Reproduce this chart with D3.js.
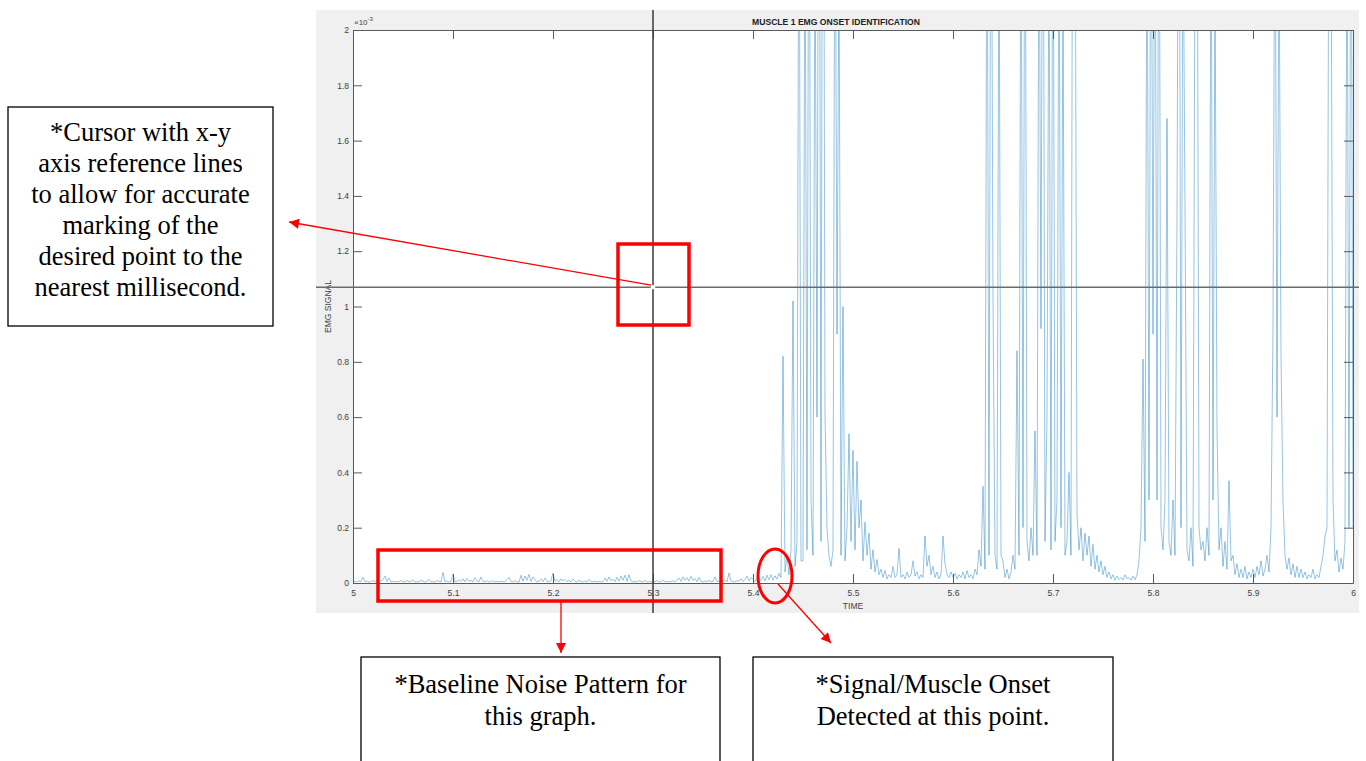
<!DOCTYPE html>
<html>
<head>
<meta charset="utf-8">
<script src="https://cdn.jsdelivr.net/npm/d3@7"></script>
<style>
  html, body { margin: 0; padding: 0; background: #ffffff; }
  svg { display: block; }
</style>
</head>
<body>
<svg id="chart" width="1366" height="761"></svg>
<script>
// ---------------- DATA ----------------
const chartTitle = "MUSCLE 1 EMG ONSET IDENTIFICATION";
const xAxisLabel = "TIME";
const yAxisLabel = "EMG SIGNAL";
const yExponent = "-3";
const xTickValues = [5, 5.1, 5.2, 5.3, 5.4, 5.5, 5.6, 5.7, 5.8, 5.9, 6];
const xTickLabels = ["5", "5.1", "5.2", "5.3", "5.4", "5.5", "5.6", "5.7", "5.8", "5.9", "6"];
const yTickValues = [0, 0.2, 0.4, 0.6, 0.8, 1, 1.2, 1.4, 1.6, 1.8, 2];
const yTickLabels = ["0", "0.2", "0.4", "0.6", "0.8", "1", "1.2", "1.4", "1.6", "1.8", "2"];
const xDomain = [5, 6];
const yDomain = [0, 2];
const sampleStart = 5.0;      // s
const sampleStep = 0.002;     // s between samples
// EMG signal (x 10^-3), one value per sample from 5.000 s to 6.000 s
const emgValues = [
  // 5.000 - 5.048
  0.004,0.006,0.003,0.008,0.005,0.021,0.004,0.007,0.003,0.005,0.009,0.004,0.006,0.003,0.008,0.012,0.025,0.006,0.018,0.004,0.007,0.003,0.006,0.004,0.009,
  // 5.050 - 5.098
  0.005,0.003,0.010,0.004,0.006,0.012,0.003,0.005,0.004,0.011,0.006,0.003,0.007,0.013,0.004,0.005,0.003,0.009,0.006,0.004,0.038,0.005,0.007,0.004,0.006,
  // 5.100 - 5.148
  0.033,0.004,0.006,0.012,0.005,0.015,0.004,0.016,0.006,0.010,0.004,0.018,0.007,0.005,0.022,0.006,0.004,0.009,0.003,0.005,0.008,0.004,0.006,0.003,0.007,
  // 5.150 - 5.198
  0.005,0.004,0.012,0.020,0.006,0.004,0.008,0.005,0.003,0.028,0.007,0.025,0.010,0.031,0.006,0.022,0.012,0.004,0.006,0.015,0.005,0.018,0.006,0.004,0.009,
  // 5.200 - 5.248
  0.036,0.006,0.012,0.004,0.015,0.007,0.013,0.005,0.010,0.004,0.014,0.006,0.003,0.011,0.005,0.004,0.008,0.003,0.013,0.005,0.004,0.007,0.003,0.006,0.004,
  // 5.250 - 5.298
  0.005,0.018,0.006,0.022,0.008,0.014,0.005,0.020,0.007,0.026,0.010,0.028,0.006,0.030,0.008,0.004,0.006,0.003,0.009,0.005,0.004,0.010,0.003,0.005,0.004,
  // 5.300 - 5.348
  0.006,0.004,0.009,0.003,0.005,0.011,0.004,0.006,0.003,0.005,0.008,0.004,0.012,0.018,0.006,0.022,0.010,0.019,0.007,0.024,0.009,0.016,0.005,0.020,0.006,
  // 5.350 - 5.398
  0.004,0.007,0.005,0.010,0.004,0.006,0.021,0.005,0.008,0.004,0.006,0.012,0.004,0.036,0.007,0.005,0.004,0.009,0.006,0.015,0.005,0.013,0.025,0.008,0.020,
  // 5.400 - 5.448
  0.012,0.005,0.018,0.006,0.010,0.024,0.008,0.028,0.012,0.030,0.010,0.026,0.014,0.035,0.020,0.82,0.04,0.10,0.03,0.12,1.02,0.06,0.15,2.9,0.08,
  // 5.450 - 5.498
  0.08,2.6,0.12,3.2,0.3,0.1,2.4,0.6,3.5,0.15,4.0,0.61,0.2,0.1,0.06,0.12,2.8,0.9,2.3,0.1,1.0,0.08,0.2,0.54,0.15,
  // 5.500 - 5.548
  0.48,0.12,0.44,0.20,0.30,0.08,0.22,0.10,0.18,0.05,0.12,0.04,0.085,0.03,0.05,0.02,0.045,0.015,0.03,0.02,0.06,0.02,0.03,0.125,0.02,
  // 5.550 - 5.598
  0.03,0.015,0.04,0.02,0.03,0.08,0.025,0.04,0.015,0.03,0.02,0.17,0.06,0.10,0.03,0.06,0.02,0.04,0.015,0.03,0.17,0.07,0.03,0.02,0.04,
  // 5.600 - 5.648
  0.02,0.035,0.015,0.03,0.02,0.04,0.015,0.045,0.02,0.03,0.015,0.05,0.03,0.12,0.06,0.35,0.05,2.8,0.1,3.1,1.03,0.1,0.05,2.5,0.1,
  // 5.650 - 5.698
  0.08,0.02,0.05,0.015,0.04,0.1,0.05,0.84,0.1,2.7,0.2,3.0,0.15,0.08,0.2,0.1,0.55,0.1,2.6,0.92,3.2,0.15,0.6,2.4,0.12,
  // 5.700 - 5.748
  2.9,0.15,0.3,2.6,0.2,2.2,0.1,0.15,0.4,0.1,3.4,2.8,0.25,0.12,0.2,0.08,0.18,0.1,0.17,0.06,0.14,0.05,0.1,0.04,0.08,
  // 5.750 - 5.798
  0.03,0.06,0.02,0.04,0.015,0.03,0.01,0.025,0.012,0.02,0.01,0.03,0.015,0.02,0.01,0.025,0.012,0.03,0.08,0.2,0.81,0.15,2.6,0.3,3.0,
  // 5.800 - 5.848
  0.9,2.8,0.3,3.1,0.2,0.12,0.3,1.68,0.15,0.1,0.3,0.1,1.33,3.3,0.2,2.5,1.36,0.12,0.08,0.2,0.06,2.4,2.9,0.2,0.12,
  // 5.850 - 5.898
  0.15,0.08,0.2,0.1,2.6,0.3,2.2,0.56,0.12,0.2,0.06,0.15,0.05,0.37,0.08,0.1,0.03,0.07,0.02,0.05,0.02,0.06,0.015,0.04,0.02,
  // 5.900 - 5.948
  0.05,0.02,0.06,0.03,0.08,0.025,0.05,0.1,0.04,0.2,0.92,2.7,0.6,2.4,0.82,0.3,0.1,0.05,0.09,0.03,0.07,0.02,0.06,0.02,0.05,
  // 5.950 - 5.998
  0.02,0.04,0.015,0.03,0.02,0.05,0.015,0.03,0.02,0.06,0.1,0.17,0.2,2.8,2.5,0.3,0.08,0.12,0.04,0.09,0.05,0.15,2.6,0.2,3.0,
  // 6.000
  0.2
];
// cursor crosshair position (data coordinates)
const cursorTime = 5.3;
const cursorValue = 1.07;
// annotation texts
const noteCursor = ["*Cursor with x-y", "axis reference lines", "to allow for accurate", "marking of the", "desired point to the", "nearest millisecond."];
const noteBaseline = ["*Baseline Noise Pattern for", "this graph."];
const noteOnset = ["*Signal/Muscle Onset", "Detected at this point."];

// ---------------- LAYOUT ----------------
const svg = d3.select("#chart");
const fig = { x0: 316, y0: 10, x1: 1359, y1: 613 };
const plot = { left: 353, right: 1353, top: 30, bottom: 583 };
const axisColor = "#5a5a5a";
const textColor = "#404040";
const sans = "'Liberation Sans', Arial, Helvetica, sans-serif";
const serif = "'Liberation Serif', 'Times New Roman', serif";

const x = d3.scaleLinear().domain(xDomain).range([plot.left, plot.right]);
const y = d3.scaleLinear().domain(yDomain).range([plot.bottom, plot.top]);

// figure background
svg.append("rect").attr("x", fig.x0).attr("y", fig.y0)
  .attr("width", fig.x1 - fig.x0).attr("height", fig.y1 - fig.y0).attr("fill", "#f0f0f0");
svg.append("rect").attr("x", plot.left).attr("y", plot.top)
  .attr("width", plot.right - plot.left).attr("height", plot.bottom - plot.top).attr("fill", "#ffffff");

// clip
svg.append("defs").append("clipPath").attr("id", "plotClip")
  .append("rect").attr("x", plot.left).attr("y", plot.top)
  .attr("width", plot.right - plot.left).attr("height", plot.bottom - plot.top);

// signal
const line = d3.line()
  .x((d, i) => x(sampleStart + i * sampleStep))
  .y(d => y(d));
svg.append("path")
  .datum(emgValues)
  .attr("clip-path", "url(#plotClip)")
  .attr("d", line)
  .attr("fill", "none")
  .attr("stroke", "#0072BD")
  .attr("stroke-opacity", 0.7)
  .attr("stroke-width", 0.6)
  .attr("stroke-linejoin", "miter")
  .attr("stroke-miterlimit", 2);

// axes
const tickLen = 9;
function styleAxis(g) {
  g.select(".domain").attr("stroke", axisColor).attr("stroke-width", 1);
  g.selectAll(".tick line").attr("stroke", axisColor).attr("stroke-width", 1);
  g.selectAll(".tick text").attr("fill", textColor).attr("font-family", sans).attr("font-size", 8.5);
}
svg.append("g").attr("transform", `translate(0,${plot.bottom})`)
  .call(d3.axisBottom(x).tickValues(xTickValues).tickSize(-tickLen).tickSizeOuter(0).tickPadding(7)
    .tickFormat((d, i) => xTickLabels[i]))
  .call(styleAxis);
svg.append("g").attr("transform", `translate(0,${plot.top})`)
  .call(d3.axisTop(x).tickValues(xTickValues).tickSize(-tickLen).tickSizeOuter(0).tickFormat(""))
  .call(styleAxis);
svg.append("g").attr("transform", `translate(${plot.left},0)`)
  .call(d3.axisLeft(y).tickValues(yTickValues).tickSize(-tickLen).tickSizeOuter(0).tickPadding(4)
    .tickFormat((d, i) => yTickLabels[i]))
  .call(styleAxis);
svg.append("g").attr("transform", `translate(${plot.right},0)`)
  .call(d3.axisRight(y).tickValues(yTickValues).tickSize(-tickLen).tickSizeOuter(0).tickFormat(""))
  .call(styleAxis);

// exponent label
const expo = svg.append("text").attr("x", plot.left + 1).attr("y", plot.top - 5)
  .attr("font-family", sans).attr("font-size", 8).attr("fill", textColor);
expo.append("tspan").text("\u00d710");
expo.append("tspan").attr("dy", -4).attr("font-size", 6).text(yExponent);

// title & labels
svg.append("text").attr("x", 836).attr("y", 25).attr("text-anchor", "middle")
  .attr("font-family", sans).attr("font-weight", "bold").attr("font-size", 8.6)
  .attr("fill", "#202020").text(chartTitle);
svg.append("text").attr("x", (plot.left + plot.right) / 2).attr("y", 609).attr("text-anchor", "middle")
  .attr("font-family", sans).attr("font-size", 8.5).attr("fill", textColor).text(xAxisLabel);
svg.append("text").attr("transform", `translate(331,${(plot.top + plot.bottom) / 2}) rotate(-90)`)
  .attr("text-anchor", "middle").attr("font-family", sans).attr("font-size", 8.5)
  .attr("fill", textColor).text(yAxisLabel);

// cursor crosshair
const cx = x(cursorTime), cy = y(cursorValue);
svg.append("line").attr("x1", fig.x0).attr("x2", fig.x1).attr("y1", cy).attr("y2", cy)
  .attr("stroke", "#6a6a6a").attr("stroke-width", 1.5);
svg.append("line").attr("x1", cx).attr("x2", cx).attr("y1", fig.y0).attr("y2", fig.y1)
  .attr("stroke", "#3a3a3a").attr("stroke-width", 1.5);
svg.append("circle").attr("cx", cx).attr("cy", cy).attr("r", 2.2).attr("fill", "#ffffff");

// ---------------- ANNOTATIONS ----------------
const red = "#ff0000";
const defs = svg.select("defs");
defs.append("marker").attr("id", "arrowRed").attr("viewBox", "0 0 10 10")
  .attr("refX", 10).attr("refY", 5).attr("markerWidth", 13).attr("markerHeight", 10)
  .attr("markerUnits", "userSpaceOnUse").attr("orient", "auto")
  .append("path").attr("d", "M0,0 L10,5 L0,10 Z").attr("fill", red);

// box around cursor
svg.append("rect").attr("x", cx - 35).attr("y", 244).attr("width", 71).attr("height", 81)
  .attr("fill", "none").attr("stroke", red).attr("stroke-width", 3.5);
svg.append("line").attr("x1", cx - 2).attr("y1", cy - 2).attr("x2", 289).attr("y2", 222)
  .attr("stroke", red).attr("stroke-width", 1.3).attr("marker-end", "url(#arrowRed)");

// baseline noise box
svg.append("rect").attr("x", 378).attr("y", 550).attr("width", 343).attr("height", 51)
  .attr("fill", "none").attr("stroke", red).attr("stroke-width", 3.5);
svg.append("line").attr("x1", 561).attr("y1", 602).attr("x2", 561).attr("y2", 653)
  .attr("stroke", red).attr("stroke-width", 1.3).attr("marker-end", "url(#arrowRed)");

// onset ellipse
svg.append("ellipse").attr("cx", 775).attr("cy", 576).attr("rx", 17).attr("ry", 27)
  .attr("fill", "none").attr("stroke", red).attr("stroke-width", 3);
svg.append("line").attr("x1", 778).attr("y1", 584).attr("x2", 831).attr("y2", 643)
  .attr("stroke", red).attr("stroke-width", 1.3).attr("marker-end", "url(#arrowRed)");

// text boxes
function noteBox(bx, by, bw, bh, lines, cxText, firstBaseline, lineGap) {
  svg.append("rect").attr("x", bx).attr("y", by).attr("width", bw).attr("height", bh)
    .attr("fill", "#ffffff").attr("stroke", "#000000").attr("stroke-width", 1.3);
  const t = svg.append("text").attr("font-family", serif).attr("font-size", 26.5)
    .attr("fill", "#000000").attr("text-anchor", "middle");
  lines.forEach((s, i) => {
    t.append("tspan").attr("x", cxText).attr("y", firstBaseline + i * lineGap).text(s);
  });
}
noteBox(8, 107, 265, 219, noteCursor, 140.5, 141, 31);
noteBox(361, 657, 359, 120, noteBaseline, 540.5, 693, 31.5);
noteBox(753, 657, 360, 120, noteOnset, 933, 693, 31.5);
</script>
</body>
</html>
